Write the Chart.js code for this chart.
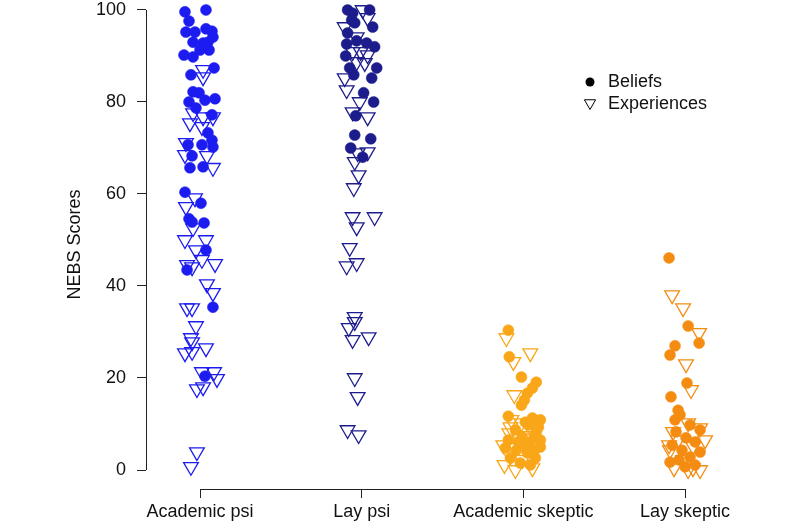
<!DOCTYPE html>
<html>
<head>
<meta charset="utf-8">
<script src="https://cdn.jsdelivr.net/npm/chart.js@4.4.1/dist/chart.umd.min.js"></script>
<style>
  html, body { margin: 0; padding: 0; background: #fff; }
  #wrap { width: 800px; height: 530px; }
</style>
</head>
<body>
<div id="wrap"><canvas id="nebsChart" width="800" height="530"></canvas></div>
<script>
const categories = ["Academic psi", "Lay psi", "Academic skeptic", "Lay skeptic"];
const yTicks = [0, 20, 40, 60, 80, 100];

// each point: [group position + jitter, score]
const academicPsiBeliefs = [
  [0.907, 99.6], [1.037, 100], [0.932, 97.6], [0.913, 95.2], [0.969, 95.2], [1.037, 95.9],
  [1.074, 95.4], [0.957, 93.0], [1.019, 92.8], [1.080, 94.1], [1.049, 93.0], [0.901, 90.2],
  [0.957, 89.8], [1.000, 91.3], [1.056, 91.3], [1.087, 87.4], [0.944, 85.9], [0.957, 82.2],
  [0.994, 82.0], [0.932, 80.0], [0.975, 78.7], [1.031, 80.4], [1.093, 80.7], [1.074, 77.2],
  [1.049, 73.3], [1.074, 71.7], [0.926, 70.7], [1.012, 70.7], [1.080, 70.2], [0.951, 68.3],
  [0.938, 65.7], [1.019, 65.9], [0.907, 60.4], [1.006, 58.0], [0.932, 54.6], [0.951, 53.9],
  [1.025, 53.7], [1.037, 47.8], [0.920, 43.5], [1.080, 35.4], [1.031, 20.4]
];
const academicPsiExperiences = [
  [1.019, 87.0], [1.019, 85.4], [0.957, 77.6], [1.019, 76.7], [1.080, 76.7], [0.938, 75.4],
  [1.012, 74.6], [0.913, 71.1], [0.907, 68.5], [1.043, 68.3], [1.080, 65.7], [0.969, 59.1],
  [0.913, 57.2], [0.957, 52.6], [0.907, 50.0], [1.037, 50.0], [0.975, 47.8], [1.012, 45.7],
  [0.920, 44.6], [0.951, 44.1], [1.093, 44.8], [1.043, 40.4], [1.080, 38.5], [0.920, 35.2],
  [0.951, 35.2], [0.975, 31.3], [0.944, 28.7], [0.951, 27.8], [0.907, 25.4], [0.951, 25.7],
  [1.037, 26.5], [1.012, 21.3], [1.087, 21.3], [1.105, 19.8], [0.981, 17.6], [1.019, 18.0],
  [0.981, 3.9], [0.944, 0.7]
];
const layPsiBeliefs = [
  [1.913, 100], [1.944, 99.3], [1.938, 97.8], [2.049, 100], [1.957, 97.2], [2.068, 96.3],
  [1.913, 95.0], [1.907, 92.6], [1.969, 93.3], [2.031, 92.8], [2.080, 92.0], [1.901, 90.0],
  [1.926, 87.4], [1.951, 85.9], [2.093, 87.4], [2.062, 85.2], [2.012, 82.0], [2.074, 80.0],
  [1.963, 77.0], [1.957, 72.8], [2.056, 72.0], [1.932, 70.0], [2.006, 68.0]
];
const layPsiExperiences = [
  [2.006, 100], [2.037, 98.3], [1.895, 96.3], [1.969, 94.1], [1.994, 90.9], [1.944, 90.9],
  [2.037, 90.2], [2.019, 88.5], [1.969, 88.7], [1.895, 85.2], [1.907, 82.6], [1.988, 80.0],
  [1.944, 77.8], [2.037, 76.7], [1.975, 68.9], [2.037, 69.1], [1.957, 67.0], [1.981, 64.1],
  [1.951, 61.3], [1.944, 55.0], [1.969, 52.8], [2.080, 55.0], [1.926, 48.3], [1.907, 44.3],
  [1.969, 45.0], [1.957, 33.3], [1.957, 32.2], [1.920, 30.9], [1.944, 28.3], [2.043, 28.9],
  [1.957, 20.0], [1.975, 15.9], [1.913, 8.7], [1.981, 7.6]
];
const academicSkepticBeliefs = [
  [2.907, 30.4], [2.913, 24.6], [2.988, 20.2], [3.080, 19.1], [3.056, 17.8], [3.025, 16.7],
  [3.006, 15.2], [2.988, 14.1], [2.907, 11.7], [3.056, 11.3], [3.105, 10.9], [3.031, 9.8],
  [2.951, 8.7], [3.080, 8.3], [2.994, 7.2], [2.907, 6.5], [3.043, 6.1], [3.105, 5.0],
  [2.957, 4.3], [3.025, 3.7], [3.074, 2.6], [2.920, 2.6], [2.981, 1.5], [3.043, 1.1],
  [3.105, 6.5], [2.889, 4.8], [3.012, 5.0], [3.093, 9.3], [3.068, 7.6], [3.012, 10.4],
  [3.062, 4.1], [2.969, 6.1]
];
const academicSkepticExperiences = [
  [2.895, 28.7], [3.043, 25.4], [2.938, 23.5], [2.944, 16.3], [2.920, 9.3], [2.926, 10.9],
  [2.988, 10.2], [3.043, 9.1], [2.913, 8.0], [2.975, 7.0], [3.031, 7.4], [2.876, 5.4],
  [2.951, 4.8], [3.074, 4.3], [2.920, 3.0], [2.994, 2.2], [2.883, 1.1], [3.056, 0.4],
  [2.951, 0]
];
const laySkepticBeliefs = [
  [3.901, 46.1], [4.019, 31.3], [4.087, 27.6], [3.938, 27.0], [3.907, 25.0], [4.012, 18.9],
  [3.913, 15.9], [3.957, 13.0], [3.938, 10.9], [3.907, 1.7], [3.969, 12.0], [4.031, 9.8],
  [4.093, 8.7], [3.944, 8.3], [4.006, 7.0], [4.062, 6.1], [3.920, 5.4], [3.981, 4.3],
  [4.093, 3.9], [4.031, 2.8], [3.963, 2.2], [4.062, 1.1], [4.000, 0.7]
];
const laySkepticExperiences = [
  [3.920, 38.0], [3.988, 35.2], [4.087, 29.8], [4.006, 23.0], [4.037, 17.4], [4.019, 10.2],
  [4.093, 9.1], [3.926, 8.3], [3.901, 5.4], [3.907, 4.3], [4.093, 0], [3.957, 6.5],
  [4.049, 5.2], [3.988, 2.2], [3.932, 0.4], [4.019, 0], [4.049, 0.4], [4.124, 6.5]
];

const groupColors = ["#1c1cf0", "#1c1c8c", "#f9a618", "#f48c12"];
const FONT = "'Liberation Sans', Arial, Helvetica, sans-serif";

const toXY = arr => arr.map(p => ({ x: p[0], y: p[1] }));

function beliefSet(label, arr, color) {
  return {
    label: label,
    data: toXY(arr),
    pointStyle: "circle",
    pointRadius: 5.5,
    backgroundColor: color,
    borderColor: color,
    borderWidth: 0.5
  };
}
function experienceSet(label, arr, color) {
  return {
    label: label,
    data: toXY(arr),
    pointStyle: "triangle",
    pointRotation: 180,
    pointRadius: 8.5,
    backgroundColor: "rgba(0,0,0,0)",
    borderColor: color,
    borderWidth: 1.3
  };
}

// R-style axis lines: y from 0 to 100, x from first to last group
const rAxes = {
  id: "rAxes",
  afterDraw(chart) {
    const { ctx, chartArea, scales } = chart;
    ctx.save();
    ctx.strokeStyle = "#222";
    ctx.lineWidth = 1;
    ctx.beginPath();
    const xl = Math.round(chartArea.left) + 0.5;
    ctx.moveTo(xl, scales.y.getPixelForValue(yTicks[0]));
    ctx.lineTo(xl, scales.y.getPixelForValue(yTicks[yTicks.length - 1]));
    const yb = Math.round(chartArea.bottom) + 0.5;
    ctx.moveTo(scales.x.getPixelForValue(1), yb);
    ctx.lineTo(scales.x.getPixelForValue(categories.length), yb);
    ctx.stroke();
    ctx.restore();
  }
};

// legend in the upper right
const symbolLegend = {
  id: "symbolLegend",
  afterDraw(chart) {
    const ctx = chart.ctx;
    ctx.save();
    ctx.fillStyle = "#000";
    ctx.strokeStyle = "#000";
    ctx.lineWidth = 1;
    ctx.beginPath();
    ctx.arc(590, 82, 4.5, 0, Math.PI * 2);
    ctx.fill();
    const r = 6.5, cx = 590, cy = 103;
    ctx.beginPath();
    ctx.moveTo(cx, cy + r);
    ctx.lineTo(cx + r * 0.866, cy - r / 2);
    ctx.lineTo(cx - r * 0.866, cy - r / 2);
    ctx.closePath();
    ctx.stroke();
    ctx.font = "18px " + FONT;
    ctx.textBaseline = "middle";
    ctx.textAlign = "left";
    ctx.fillStyle = "#111";
    ctx.fillText("Beliefs", 608, 82);
    ctx.fillText("Experiences", 608, 104);
    ctx.restore();
  }
};

new Chart(document.getElementById("nebsChart"), {
  type: "scatter",
  data: {
    datasets: [
      beliefSet("Beliefs", academicPsiBeliefs, groupColors[0]),
      beliefSet("Beliefs", layPsiBeliefs, groupColors[1]),
      beliefSet("Beliefs", academicSkepticBeliefs, groupColors[2]),
      beliefSet("Beliefs", laySkepticBeliefs, groupColors[3]),
      experienceSet("Experiences", academicPsiExperiences, groupColors[0]),
      experienceSet("Experiences", layPsiExperiences, groupColors[1]),
      experienceSet("Experiences", academicSkepticExperiences, groupColors[2]),
      experienceSet("Experiences", laySkepticExperiences, groupColors[3])
    ]
  },
  options: {
    responsive: false,
    animation: false,
    layout: { padding: 0, autoPadding: false },
    plugins: {
      legend: { display: false },
      tooltip: { enabled: false }
    },
    scales: {
      x: {
        type: "linear",
        min: 0.666,
        max: 4.711,
        afterBuildTicks: s => { s.ticks = categories.map((c, i) => ({ value: i + 1 })); },
        afterFit: s => { s.height = 41; s.paddingLeft = 0; s.paddingRight = 0; },
        ticks: {
          callback: v => categories[v - 1] || "",
          autoSkip: false,
          maxRotation: 0,
          padding: 3,
          color: "#111",
          font: { family: FONT, size: 18 }
        },
        grid: { drawOnChartArea: false, drawTicks: true, tickLength: 9, tickColor: "#222" },
        border: { display: false }
      },
      y: {
        type: "linear",
        min: -4.13,
        max: 102.17,
        afterBuildTicks: s => { s.ticks = yTicks.map(v => ({ value: v })); },
        afterFit: s => { s.width = 146; s.paddingTop = 0; s.paddingBottom = 0; },
        ticks: {
          padding: 11,
          color: "#111",
          font: { family: FONT, size: 18 }
        },
        grid: { drawOnChartArea: false, drawTicks: true, tickLength: 9, tickColor: "#222" },
        border: { display: false },
        title: {
          display: true,
          text: "NEBS Scores",
          color: "#111",
          font: { family: FONT, size: 18 },
          padding: { top: 64, bottom: 0 }
        }
      }
    }
  },
  plugins: [rAxes, symbolLegend]
});
</script>
</body>
</html>
